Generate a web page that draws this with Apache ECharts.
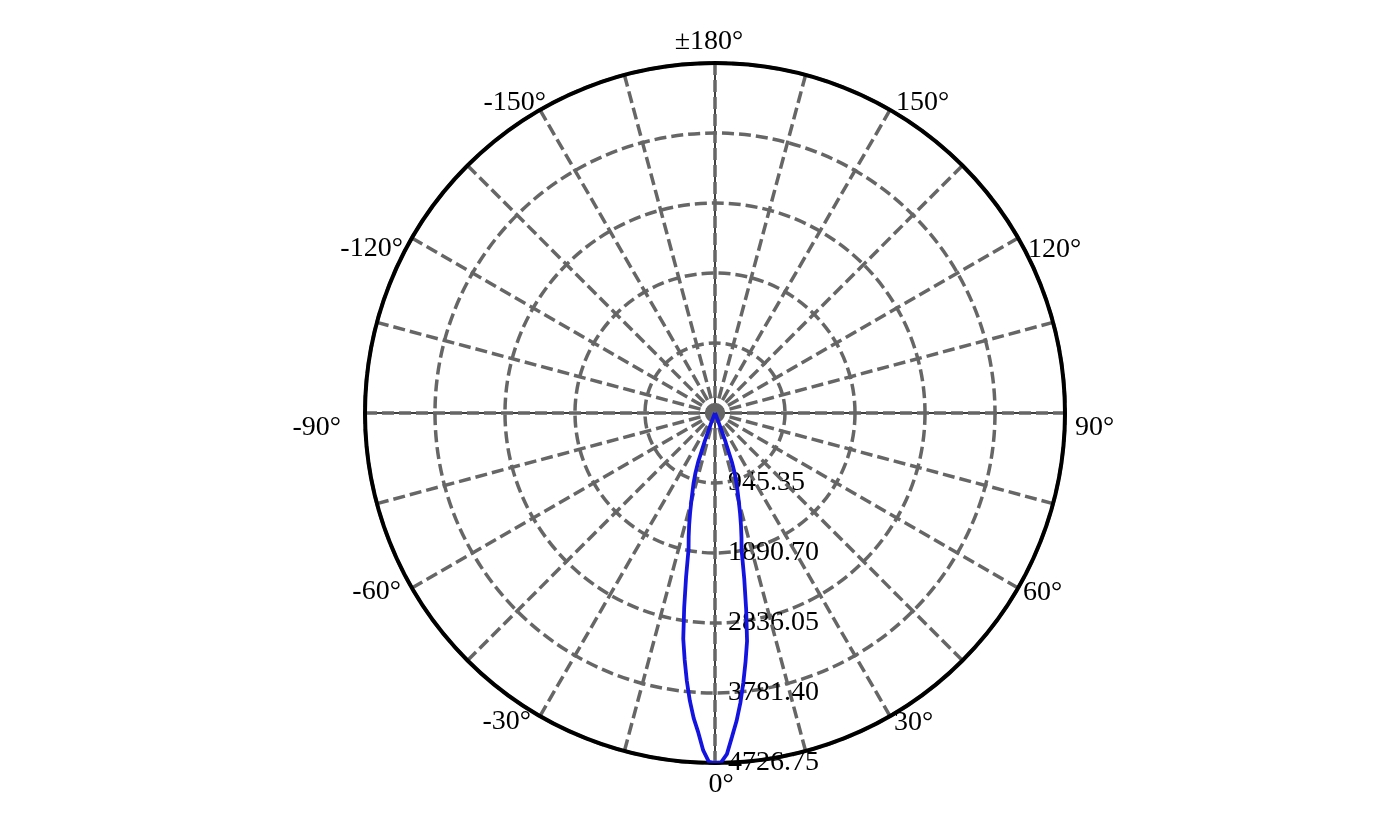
<!DOCTYPE html>
<html lang="en">
<head>
<meta charset="UTF-8"/>
<title>polar intensity</title>
<script src="https://cdn.jsdelivr.net/npm/echarts@6/dist/echarts.min.js"></script>
<style>html,body{margin:0;padding:0;background:#fff;}</style>
</head>
<body>
<div id="main" style="width:1396px;height:814px;"></div>
<script>
// angle in degrees: 0 = straight down, positive = to the right
var angles = [-24,-23,-22,-21,-20,-19,-18,-17,-16,-15,-14,-13,-12,-11,-10,-9,-8,-7,-6,-5,-4,-3,-2,-1,
              0,
              1,2,3,4,5,6,7,8,9,10,11,12,13,14,15,16,17,18,19,20,21,22,23,24];
var intensity = [0,0,35,150,400,690,860,990,1100,1235,1390,1550,1710,1870,2250,2660,3080,3360,3640,3900,4130,4320,4560,4712,
                 4726.75,
                 4718,4610,4380,4170,3930,3660,3385,3110,2690,2275,1880,1720,1560,1400,1245,1110,1000,870,700,420,160,40,0,0];

var rMax = 4726.75;
var rStep = 945.35;

var labelAngles = [0, 30, 60, 90, 120, 150, 180, -150, -120, -90, -60, -30];
var labelTexts = ['0°', '30°', '60°', '90°', '120°', '150°', '±180°', '-150°', '-120°', '-90°', '-60°', '-30°'];
// hand-tuned pixel nudges for the angle labels (text placement only)
var labelShift = [[6, 22], [4, 7], [5, 5], [10, 15], [10, 12], [6, -7], [-6, -21],
                  [6, -7], [-9, 11], [-24, 15], [-11, 4], [-9, 6]];

var font = 'Liberation Serif';

function toAxis(a) {
    return a < 0 ? a + 360 : a;
}

var curve = [];
for (var i = 0; i < angles.length; i++) {
    curve.push([intensity[i], toAxis(angles[i])]);
}

// angle labels sit on the outer ring, aligned away from the centre
var labelData = labelAngles.map(function (a, i) {
    var s = Math.sin(a * Math.PI / 180);
    return {
        value: [rMax, toAxis(a)],
        label: {
            show: true,
            formatter: labelTexts[i],
            position: 'inside',
            align: Math.abs(s) < 0.3 ? 'center' : (s > 0 ? 'left' : 'right'),
            verticalAlign: 'middle',
            offset: labelShift[i],
            color: '#000',
            fontFamily: font,
            fontSize: 28
        }
    };
});

var myChart = echarts.init(document.getElementById('main'));

var option = {
    backgroundColor: '#fff',
    animation: false,
    polar: {
        center: [715, 413],
        radius: 350
    },
    angleAxis: {
        type: 'value',
        min: 0,
        max: 360,
        interval: 15,
        startAngle: 270,
        clockwise: false,
        z: 1,
        axisLine: { show: true, lineStyle: { color: '#000', width: 4 } },
        axisTick: { show: false },
        axisLabel: { show: false },
        splitLine: { show: true, lineStyle: { color: '#666', width: 3.5, type: [12, 5] } }
    },
    radiusAxis: {
        type: 'value',
        min: 0,
        max: rMax,
        interval: rStep,
        z: 0,
        axisLine: { show: false },
        axisTick: { show: false },
        axisLabel: {
            show: true,
            margin: 13,
            color: '#000',
            fontFamily: font,
            fontSize: 28,
            padding: [0, 0, 9, 0],
            formatter: function (v) {
                return v === 0 ? '' : v.toFixed(2);
            }
        },
        splitLine: { show: true, lineStyle: { color: '#666', width: 3.5, type: [12, 5] } }
    },
    series: [
        {
            // thin black cross through the centre
            type: 'line',
            coordinateSystem: 'polar',
            data: [[rMax, 90], [rMax, 270]],
            symbol: 'none',
            silent: true,
            z: -1,
            lineStyle: { color: '#000', width: 1.5 }
        },
        {
            type: 'line',
            coordinateSystem: 'polar',
            data: [[rMax, 0], [rMax, 180]],
            symbol: 'none',
            silent: true,
            z: -1,
            lineStyle: { color: '#000', width: 1.5 }
        },
        {
            type: 'line',
            coordinateSystem: 'polar',
            data: curve,
            symbol: 'none',
            z: 3,
            lineStyle: { color: '#1414e0', width: 3.8 }
        },
        {
            type: 'scatter',
            coordinateSystem: 'polar',
            data: labelData,
            symbolSize: 0,
            silent: true,
            z: 5,
            itemStyle: { color: 'transparent', opacity: 1 }
        }
    ]
};

myChart.setOption(option);
</script>
</body>
</html>
